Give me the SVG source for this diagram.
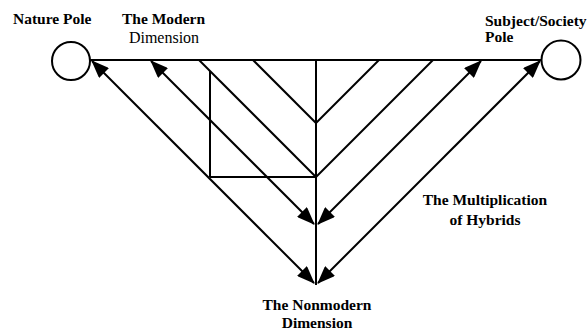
<svg xmlns="http://www.w3.org/2000/svg" width="587" height="331" viewBox="0 0 587 331">
<style>
.ln{stroke:#000;stroke-width:2;fill:none}
.pole{stroke:#000;stroke-width:2;fill:#fff}
text{font-family:'Times New Roman',Times,'Liberation Serif',serif;font-size:15.5px;font-weight:bold;fill:#000}
.r{font-weight:normal;font-size:16px}
.m{text-anchor:middle}
</style>
<defs>
<marker id="ah" markerUnits="userSpaceOnUse" markerWidth="18" markerHeight="14" refX="17" refY="7" orient="auto-start-reverse" viewBox="0 0 18 14">
<path d="M0,0 L18,7 L0,14 z" fill="#000"/>
</marker>
</defs>
<rect width="587" height="331" fill="#fff"/>
<g id="connectors">
<line class="ln" x1="90" y1="60" x2="542" y2="60"/>
<line class="ln" x1="316" y1="60" x2="316" y2="285"/>
<line class="ln" x1="199" y1="60" x2="316" y2="177"/>
<line class="ln" x1="210" y1="71" x2="210" y2="177"/>
<line class="ln" x1="210" y1="177" x2="316" y2="177"/>
<line class="ln" x1="253" y1="60" x2="316" y2="123"/>
<line class="ln" x1="316" y1="123" x2="379" y2="60"/>
<line class="ln" x1="316" y1="177" x2="433" y2="60"/>
<line class="ln" x1="92" y1="61" x2="314" y2="283" marker-start="url(#ah)" marker-end="url(#ah)"/>
<line class="ln" x1="151" y1="61" x2="314" y2="224" marker-start="url(#ah)" marker-end="url(#ah)"/>
<line class="ln" x1="318" y1="224" x2="481" y2="61" marker-start="url(#ah)" marker-end="url(#ah)"/>
<line class="ln" x1="318" y1="283" x2="540" y2="61" marker-start="url(#ah)" marker-end="url(#ah)"/>
</g>
<g id="nature-pole">
<circle class="pole" cx="71" cy="61" r="19"/>
<text x="13" y="24">Nature Pole</text>
</g>
<g id="society-pole">
<circle class="pole" cx="561" cy="60" r="19.5"/>
<text x="485" y="26">Subject/Society</text>
<text x="485" y="42">Pole</text>
</g>
<g id="modern-dimension">
<text x="122" y="24">The Modern</text>
<text class="r m" x="164" y="43">Dimension</text>
</g>
<g id="hybrids">
<text class="m" x="485" y="205">The Multiplication</text>
<text class="m" x="485" y="225">of Hybrids</text>
</g>
<g id="nonmodern-dimension">
<text class="m" x="317" y="310">The Nonmodern</text>
<text class="m" x="317" y="328">Dimension</text>
</g>
</svg>
